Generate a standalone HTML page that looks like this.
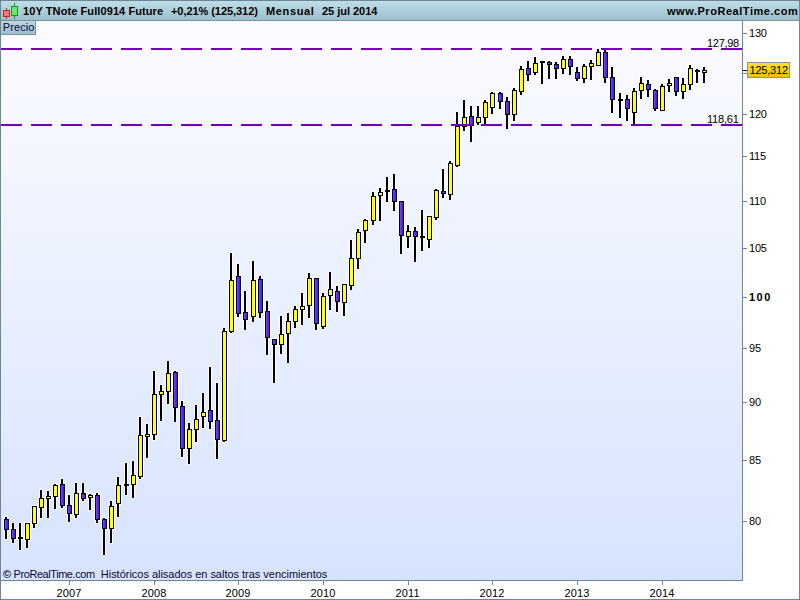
<!DOCTYPE html>
<html><head><meta charset="utf-8"><style>
html,body{margin:0;padding:0;background:#fff;}
#root{position:relative;width:800px;height:600px;overflow:hidden;font-family:"Liberation Sans",sans-serif;}
.t{position:absolute;white-space:nowrap;line-height:13px;}
</style></head><body><div id="root">
<svg width="800" height="600" viewBox="0 0 800 600" shape-rendering="crispEdges" style="position:absolute;left:0;top:0">
<defs>
<linearGradient id="hg" x1="0" y1="0" x2="0" y2="1"><stop offset="0" stop-color="#bfdde9"/><stop offset="1" stop-color="#9dbecb"/></linearGradient>
<linearGradient id="bg" x1="0" y1="0" x2="0" y2="1"><stop offset="0" stop-color="#fbfcff"/><stop offset="1" stop-color="#d7e3fe"/></linearGradient>
<linearGradient id="pg" x1="0" y1="0" x2="0" y2="1"><stop offset="0" stop-color="#bcd5e1"/><stop offset="1" stop-color="#9fbbc9"/></linearGradient>
<linearGradient id="yg" x1="0" y1="0" x2="0" y2="1"><stop offset="0" stop-color="#ffe21a"/><stop offset="1" stop-color="#f4bf00"/></linearGradient>
</defs>
<rect x="0" y="0" width="800" height="600" fill="#ffffff"/>
<rect x="1" y="1" width="798" height="19" fill="url(#hg)"/>
<rect x="1" y="20" width="798" height="1" fill="#7b929e"/>
<rect x="1" y="21" width="741" height="559" fill="url(#bg)"/>
<g fill="#ffffff" fill-opacity="0.8"><rect x="4" y="516" width="4" height="24"/>
<rect x="3" y="518" width="7" height="13"/>
<rect x="11" y="522" width="4" height="22"/>
<rect x="10" y="528" width="7" height="12"/>
<rect x="18" y="522" width="4" height="29"/>
<rect x="17" y="536" width="7" height="4"/>
<rect x="25" y="522" width="4" height="27"/>
<rect x="24" y="522" width="7" height="19"/>
<rect x="32" y="505" width="4" height="24"/>
<rect x="31" y="505" width="7" height="20"/>
<rect x="39" y="489" width="4" height="30"/>
<rect x="38" y="497" width="7" height="12"/>
<rect x="46" y="490" width="4" height="29"/>
<rect x="45" y="495" width="7" height="5"/>
<rect x="53" y="483" width="4" height="27"/>
<rect x="52" y="484" width="7" height="14"/>
<rect x="60" y="478" width="4" height="31"/>
<rect x="59" y="483" width="7" height="24"/>
<rect x="67" y="494" width="4" height="29"/>
<rect x="66" y="504" width="7" height="11"/>
<rect x="74" y="482" width="4" height="37"/>
<rect x="73" y="492" width="7" height="24"/>
<rect x="81" y="482" width="4" height="20"/>
<rect x="80" y="492" width="7" height="8"/>
<rect x="88" y="493" width="4" height="18"/>
<rect x="87" y="494" width="7" height="5"/>
<rect x="95" y="492" width="4" height="32"/>
<rect x="94" y="494" width="7" height="27"/>
<rect x="102" y="517" width="4" height="39"/>
<rect x="101" y="518" width="7" height="12"/>
<rect x="109" y="500" width="4" height="44"/>
<rect x="108" y="505" width="7" height="25"/>
<rect x="116" y="476" width="4" height="42"/>
<rect x="115" y="484" width="7" height="21"/>
<rect x="124" y="462" width="4" height="34"/>
<rect x="123" y="483" width="7" height="4"/>
<rect x="131" y="460" width="4" height="39"/>
<rect x="130" y="474" width="7" height="12"/>
<rect x="138" y="416" width="4" height="64"/>
<rect x="137" y="434" width="7" height="44"/>
<rect x="145" y="423" width="4" height="36"/>
<rect x="144" y="433" width="7" height="5"/>
<rect x="152" y="370" width="4" height="71"/>
<rect x="151" y="393" width="7" height="43"/>
<rect x="159" y="384" width="4" height="38"/>
<rect x="158" y="390" width="7" height="6"/>
<rect x="166" y="360" width="4" height="45"/>
<rect x="165" y="372" width="7" height="21"/>
<rect x="173" y="370" width="4" height="53"/>
<rect x="172" y="371" width="7" height="38"/>
<rect x="180" y="400" width="4" height="58"/>
<rect x="179" y="405" width="7" height="45"/>
<rect x="187" y="422" width="4" height="43"/>
<rect x="186" y="428" width="7" height="22"/>
<rect x="194" y="404" width="4" height="39"/>
<rect x="193" y="418" width="7" height="13"/>
<rect x="201" y="392" width="4" height="37"/>
<rect x="200" y="411" width="7" height="7"/>
<rect x="208" y="366" width="4" height="64"/>
<rect x="207" y="409" width="7" height="14"/>
<rect x="215" y="382" width="4" height="78"/>
<rect x="214" y="419" width="7" height="22"/>
<rect x="222" y="327" width="4" height="116"/>
<rect x="221" y="330" width="7" height="112"/>
<rect x="229" y="252" width="4" height="82"/>
<rect x="228" y="279" width="7" height="54"/>
<rect x="236" y="263" width="4" height="55"/>
<rect x="235" y="275" width="7" height="40"/>
<rect x="243" y="290" width="4" height="41"/>
<rect x="242" y="311" width="7" height="10"/>
<rect x="251" y="260" width="4" height="63"/>
<rect x="250" y="279" width="7" height="39"/>
<rect x="258" y="275" width="4" height="44"/>
<rect x="257" y="278" width="7" height="36"/>
<rect x="265" y="300" width="4" height="56"/>
<rect x="264" y="310" width="7" height="29"/>
<rect x="272" y="338" width="4" height="46"/>
<rect x="271" y="338" width="7" height="8"/>
<rect x="279" y="315" width="4" height="40"/>
<rect x="278" y="333" width="7" height="13"/>
<rect x="286" y="312" width="4" height="52"/>
<rect x="285" y="320" width="7" height="15"/>
<rect x="293" y="305" width="4" height="24"/>
<rect x="292" y="308" width="7" height="15"/>
<rect x="300" y="292" width="4" height="34"/>
<rect x="299" y="305" width="7" height="6"/>
<rect x="307" y="272" width="4" height="47"/>
<rect x="306" y="277" width="7" height="30"/>
<rect x="314" y="277" width="4" height="54"/>
<rect x="313" y="277" width="7" height="48"/>
<rect x="321" y="292" width="4" height="38"/>
<rect x="320" y="295" width="7" height="33"/>
<rect x="328" y="271" width="4" height="40"/>
<rect x="327" y="288" width="7" height="9"/>
<rect x="335" y="285" width="4" height="28"/>
<rect x="334" y="290" width="7" height="13"/>
<rect x="342" y="283" width="4" height="34"/>
<rect x="341" y="283" width="7" height="21"/>
<rect x="349" y="239" width="4" height="52"/>
<rect x="348" y="257" width="7" height="30"/>
<rect x="356" y="228" width="4" height="42"/>
<rect x="355" y="231" width="7" height="29"/>
<rect x="363" y="218" width="4" height="26"/>
<rect x="362" y="219" width="7" height="13"/>
<rect x="371" y="191" width="4" height="35"/>
<rect x="370" y="195" width="7" height="27"/>
<rect x="378" y="187" width="4" height="35"/>
<rect x="377" y="191" width="7" height="6"/>
<rect x="385" y="176" width="4" height="27"/>
<rect x="384" y="189" width="7" height="4"/>
<rect x="392" y="173" width="4" height="39"/>
<rect x="391" y="188" width="7" height="15"/>
<rect x="399" y="200" width="4" height="55"/>
<rect x="398" y="200" width="7" height="37"/>
<rect x="406" y="224" width="4" height="25"/>
<rect x="405" y="230" width="7" height="8"/>
<rect x="413" y="226" width="4" height="37"/>
<rect x="412" y="230" width="7" height="8"/>
<rect x="420" y="209" width="4" height="43"/>
<rect x="419" y="235" width="7" height="4"/>
<rect x="427" y="215" width="4" height="34"/>
<rect x="426" y="215" width="7" height="26"/>
<rect x="434" y="188" width="4" height="33"/>
<rect x="433" y="189" width="7" height="30"/>
<rect x="441" y="168" width="4" height="31"/>
<rect x="440" y="190" width="7" height="5"/>
<rect x="448" y="160" width="4" height="41"/>
<rect x="447" y="162" width="7" height="34"/>
<rect x="455" y="111" width="4" height="57"/>
<rect x="454" y="125" width="7" height="42"/>
<rect x="462" y="99" width="4" height="33"/>
<rect x="461" y="116" width="7" height="12"/>
<rect x="469" y="105" width="4" height="38"/>
<rect x="468" y="115" width="7" height="12"/>
<rect x="476" y="105" width="4" height="21"/>
<rect x="475" y="116" width="7" height="8"/>
<rect x="483" y="99" width="4" height="26"/>
<rect x="482" y="101" width="7" height="18"/>
<rect x="490" y="91" width="4" height="24"/>
<rect x="489" y="92" width="7" height="17"/>
<rect x="498" y="91" width="4" height="19"/>
<rect x="497" y="92" width="7" height="11"/>
<rect x="505" y="96" width="4" height="34"/>
<rect x="504" y="100" width="7" height="16"/>
<rect x="512" y="87" width="4" height="35"/>
<rect x="511" y="89" width="7" height="27"/>
<rect x="519" y="65" width="4" height="31"/>
<rect x="518" y="68" width="7" height="25"/>
<rect x="526" y="60" width="4" height="22"/>
<rect x="525" y="67" width="7" height="9"/>
<rect x="533" y="56" width="4" height="20"/>
<rect x="532" y="62" width="7" height="12"/>
<rect x="540" y="60" width="4" height="25"/>
<rect x="539" y="60" width="7" height="4"/>
<rect x="547" y="60" width="4" height="20"/>
<rect x="546" y="61" width="7" height="5"/>
<rect x="554" y="61" width="4" height="19"/>
<rect x="553" y="63" width="7" height="7"/>
<rect x="561" y="55" width="4" height="20"/>
<rect x="560" y="58" width="7" height="12"/>
<rect x="568" y="55" width="4" height="21"/>
<rect x="567" y="58" width="7" height="10"/>
<rect x="575" y="66" width="4" height="16"/>
<rect x="574" y="71" width="7" height="9"/>
<rect x="582" y="63" width="4" height="21"/>
<rect x="581" y="65" width="7" height="15"/>
<rect x="589" y="59" width="4" height="22"/>
<rect x="588" y="62" width="7" height="6"/>
<rect x="596" y="48" width="4" height="19"/>
<rect x="595" y="51" width="7" height="16"/>
<rect x="603" y="49" width="4" height="35"/>
<rect x="602" y="51" width="7" height="28"/>
<rect x="610" y="66" width="4" height="48"/>
<rect x="609" y="76" width="7" height="25"/>
<rect x="618" y="92" width="4" height="27"/>
<rect x="617" y="98" width="7" height="4"/>
<rect x="625" y="94" width="4" height="28"/>
<rect x="624" y="98" width="7" height="12"/>
<rect x="632" y="87" width="4" height="38"/>
<rect x="631" y="90" width="7" height="24"/>
<rect x="639" y="76" width="4" height="24"/>
<rect x="638" y="82" width="7" height="10"/>
<rect x="646" y="79" width="4" height="19"/>
<rect x="645" y="83" width="7" height="8"/>
<rect x="653" y="88" width="4" height="24"/>
<rect x="652" y="89" width="7" height="21"/>
<rect x="660" y="83" width="4" height="29"/>
<rect x="659" y="85" width="7" height="27"/>
<rect x="667" y="78" width="4" height="15"/>
<rect x="666" y="82" width="7" height="5"/>
<rect x="674" y="76" width="4" height="21"/>
<rect x="673" y="76" width="7" height="17"/>
<rect x="681" y="77" width="4" height="23"/>
<rect x="680" y="83" width="7" height="10"/>
<rect x="688" y="64" width="4" height="27"/>
<rect x="687" y="67" width="7" height="19"/>
<rect x="695" y="68" width="4" height="16"/>
<rect x="694" y="69" width="7" height="4"/>
<rect x="702" y="66" width="4" height="18"/>
<rect x="701" y="69" width="7" height="5"/></g><rect x="5" y="517" width="2" height="22" fill="#000"/>
<rect x="4" y="519" width="5" height="11" fill="#000"/>
<rect x="5" y="520" width="1" height="9" fill="#6c3cff"/>
<rect x="6" y="520" width="1" height="9" fill="#5a2af6"/>
<rect x="7" y="520" width="1" height="9" fill="#4a1ae8"/>
<rect x="12" y="523" width="2" height="20" fill="#000"/>
<rect x="11" y="529" width="5" height="10" fill="#000"/>
<rect x="12" y="530" width="1" height="8" fill="#6c3cff"/>
<rect x="13" y="530" width="1" height="8" fill="#5a2af6"/>
<rect x="14" y="530" width="1" height="8" fill="#4a1ae8"/>
<rect x="19" y="523" width="2" height="27" fill="#000"/>
<rect x="18" y="537" width="5" height="2" fill="#000"/>
<rect x="26" y="523" width="2" height="25" fill="#000"/>
<rect x="25" y="523" width="5" height="17" fill="#000"/>
<rect x="26" y="524" width="1" height="15" fill="#ffff00"/>
<rect x="27" y="524" width="1" height="15" fill="#ffff30"/>
<rect x="28" y="524" width="1" height="15" fill="#ffff00"/>
<rect x="33" y="506" width="2" height="22" fill="#000"/>
<rect x="32" y="506" width="5" height="18" fill="#000"/>
<rect x="33" y="507" width="1" height="16" fill="#ffff00"/>
<rect x="34" y="507" width="1" height="16" fill="#ffff30"/>
<rect x="35" y="507" width="1" height="16" fill="#ffff00"/>
<rect x="40" y="490" width="2" height="28" fill="#000"/>
<rect x="39" y="498" width="5" height="10" fill="#000"/>
<rect x="40" y="499" width="1" height="8" fill="#ffff00"/>
<rect x="41" y="499" width="1" height="8" fill="#ffff30"/>
<rect x="42" y="499" width="1" height="8" fill="#ffff00"/>
<rect x="47" y="491" width="2" height="27" fill="#000"/>
<rect x="46" y="496" width="5" height="3" fill="#000"/>
<rect x="47" y="497" width="1" height="1" fill="#ffff00"/>
<rect x="48" y="497" width="1" height="1" fill="#ffff30"/>
<rect x="49" y="497" width="1" height="1" fill="#ffff00"/>
<rect x="54" y="484" width="2" height="25" fill="#000"/>
<rect x="53" y="485" width="5" height="12" fill="#000"/>
<rect x="54" y="486" width="1" height="10" fill="#ffff00"/>
<rect x="55" y="486" width="1" height="10" fill="#ffff30"/>
<rect x="56" y="486" width="1" height="10" fill="#ffff00"/>
<rect x="61" y="479" width="2" height="29" fill="#000"/>
<rect x="60" y="484" width="5" height="22" fill="#000"/>
<rect x="61" y="485" width="1" height="20" fill="#6c3cff"/>
<rect x="62" y="485" width="1" height="20" fill="#5a2af6"/>
<rect x="63" y="485" width="1" height="20" fill="#4a1ae8"/>
<rect x="68" y="495" width="2" height="27" fill="#000"/>
<rect x="67" y="505" width="5" height="9" fill="#000"/>
<rect x="68" y="506" width="1" height="7" fill="#6c3cff"/>
<rect x="69" y="506" width="1" height="7" fill="#5a2af6"/>
<rect x="70" y="506" width="1" height="7" fill="#4a1ae8"/>
<rect x="75" y="483" width="2" height="35" fill="#000"/>
<rect x="74" y="493" width="5" height="22" fill="#000"/>
<rect x="75" y="494" width="1" height="20" fill="#ffff00"/>
<rect x="76" y="494" width="1" height="20" fill="#ffff30"/>
<rect x="77" y="494" width="1" height="20" fill="#ffff00"/>
<rect x="82" y="483" width="2" height="18" fill="#000"/>
<rect x="81" y="493" width="5" height="6" fill="#000"/>
<rect x="82" y="494" width="1" height="4" fill="#6c3cff"/>
<rect x="83" y="494" width="1" height="4" fill="#5a2af6"/>
<rect x="84" y="494" width="1" height="4" fill="#4a1ae8"/>
<rect x="89" y="494" width="2" height="16" fill="#000"/>
<rect x="88" y="495" width="5" height="3" fill="#000"/>
<rect x="89" y="496" width="1" height="1" fill="#ffff00"/>
<rect x="90" y="496" width="1" height="1" fill="#ffff30"/>
<rect x="91" y="496" width="1" height="1" fill="#ffff00"/>
<rect x="96" y="493" width="2" height="30" fill="#000"/>
<rect x="95" y="495" width="5" height="25" fill="#000"/>
<rect x="96" y="496" width="1" height="23" fill="#6c3cff"/>
<rect x="97" y="496" width="1" height="23" fill="#5a2af6"/>
<rect x="98" y="496" width="1" height="23" fill="#4a1ae8"/>
<rect x="103" y="518" width="2" height="37" fill="#000"/>
<rect x="102" y="519" width="5" height="10" fill="#000"/>
<rect x="103" y="520" width="1" height="8" fill="#6c3cff"/>
<rect x="104" y="520" width="1" height="8" fill="#5a2af6"/>
<rect x="105" y="520" width="1" height="8" fill="#4a1ae8"/>
<rect x="110" y="501" width="2" height="42" fill="#000"/>
<rect x="109" y="506" width="5" height="23" fill="#000"/>
<rect x="110" y="507" width="1" height="21" fill="#ffff00"/>
<rect x="111" y="507" width="1" height="21" fill="#ffff30"/>
<rect x="112" y="507" width="1" height="21" fill="#ffff00"/>
<rect x="117" y="477" width="2" height="40" fill="#000"/>
<rect x="116" y="485" width="5" height="19" fill="#000"/>
<rect x="117" y="486" width="1" height="17" fill="#ffff00"/>
<rect x="118" y="486" width="1" height="17" fill="#ffff30"/>
<rect x="119" y="486" width="1" height="17" fill="#ffff00"/>
<rect x="125" y="463" width="2" height="32" fill="#000"/>
<rect x="124" y="484" width="5" height="2" fill="#000"/>
<rect x="132" y="461" width="2" height="37" fill="#000"/>
<rect x="131" y="475" width="5" height="10" fill="#000"/>
<rect x="132" y="476" width="1" height="8" fill="#ffff00"/>
<rect x="133" y="476" width="1" height="8" fill="#ffff30"/>
<rect x="134" y="476" width="1" height="8" fill="#ffff00"/>
<rect x="139" y="417" width="2" height="62" fill="#000"/>
<rect x="138" y="435" width="5" height="42" fill="#000"/>
<rect x="139" y="436" width="1" height="40" fill="#ffff00"/>
<rect x="140" y="436" width="1" height="40" fill="#ffff30"/>
<rect x="141" y="436" width="1" height="40" fill="#ffff00"/>
<rect x="146" y="424" width="2" height="34" fill="#000"/>
<rect x="145" y="434" width="5" height="3" fill="#000"/>
<rect x="146" y="435" width="1" height="1" fill="#ffff00"/>
<rect x="147" y="435" width="1" height="1" fill="#ffff30"/>
<rect x="148" y="435" width="1" height="1" fill="#ffff00"/>
<rect x="153" y="371" width="2" height="69" fill="#000"/>
<rect x="152" y="394" width="5" height="41" fill="#000"/>
<rect x="153" y="395" width="1" height="39" fill="#ffff00"/>
<rect x="154" y="395" width="1" height="39" fill="#ffff30"/>
<rect x="155" y="395" width="1" height="39" fill="#ffff00"/>
<rect x="160" y="385" width="2" height="36" fill="#000"/>
<rect x="159" y="391" width="5" height="4" fill="#000"/>
<rect x="160" y="392" width="1" height="2" fill="#ffff00"/>
<rect x="161" y="392" width="1" height="2" fill="#ffff30"/>
<rect x="162" y="392" width="1" height="2" fill="#ffff00"/>
<rect x="167" y="361" width="2" height="43" fill="#000"/>
<rect x="166" y="373" width="5" height="19" fill="#000"/>
<rect x="167" y="374" width="1" height="17" fill="#ffff00"/>
<rect x="168" y="374" width="1" height="17" fill="#ffff30"/>
<rect x="169" y="374" width="1" height="17" fill="#ffff00"/>
<rect x="174" y="371" width="2" height="51" fill="#000"/>
<rect x="173" y="372" width="5" height="36" fill="#000"/>
<rect x="174" y="373" width="1" height="34" fill="#6c3cff"/>
<rect x="175" y="373" width="1" height="34" fill="#5a2af6"/>
<rect x="176" y="373" width="1" height="34" fill="#4a1ae8"/>
<rect x="181" y="401" width="2" height="56" fill="#000"/>
<rect x="180" y="406" width="5" height="43" fill="#000"/>
<rect x="181" y="407" width="1" height="41" fill="#6c3cff"/>
<rect x="182" y="407" width="1" height="41" fill="#5a2af6"/>
<rect x="183" y="407" width="1" height="41" fill="#4a1ae8"/>
<rect x="188" y="423" width="2" height="41" fill="#000"/>
<rect x="187" y="429" width="5" height="20" fill="#000"/>
<rect x="188" y="430" width="1" height="18" fill="#ffff00"/>
<rect x="189" y="430" width="1" height="18" fill="#ffff30"/>
<rect x="190" y="430" width="1" height="18" fill="#ffff00"/>
<rect x="195" y="405" width="2" height="37" fill="#000"/>
<rect x="194" y="419" width="5" height="11" fill="#000"/>
<rect x="195" y="420" width="1" height="9" fill="#ffff00"/>
<rect x="196" y="420" width="1" height="9" fill="#ffff30"/>
<rect x="197" y="420" width="1" height="9" fill="#ffff00"/>
<rect x="202" y="393" width="2" height="35" fill="#000"/>
<rect x="201" y="412" width="5" height="5" fill="#000"/>
<rect x="202" y="413" width="1" height="3" fill="#ffff00"/>
<rect x="203" y="413" width="1" height="3" fill="#ffff30"/>
<rect x="204" y="413" width="1" height="3" fill="#ffff00"/>
<rect x="209" y="367" width="2" height="62" fill="#000"/>
<rect x="208" y="410" width="5" height="12" fill="#000"/>
<rect x="209" y="411" width="1" height="10" fill="#6c3cff"/>
<rect x="210" y="411" width="1" height="10" fill="#5a2af6"/>
<rect x="211" y="411" width="1" height="10" fill="#4a1ae8"/>
<rect x="216" y="383" width="2" height="76" fill="#000"/>
<rect x="215" y="420" width="5" height="20" fill="#000"/>
<rect x="216" y="421" width="1" height="18" fill="#6c3cff"/>
<rect x="217" y="421" width="1" height="18" fill="#5a2af6"/>
<rect x="218" y="421" width="1" height="18" fill="#4a1ae8"/>
<rect x="223" y="328" width="2" height="114" fill="#000"/>
<rect x="222" y="331" width="5" height="110" fill="#000"/>
<rect x="223" y="332" width="1" height="108" fill="#ffff00"/>
<rect x="224" y="332" width="1" height="108" fill="#ffff30"/>
<rect x="225" y="332" width="1" height="108" fill="#ffff00"/>
<rect x="230" y="253" width="2" height="80" fill="#000"/>
<rect x="229" y="280" width="5" height="52" fill="#000"/>
<rect x="230" y="281" width="1" height="50" fill="#ffff00"/>
<rect x="231" y="281" width="1" height="50" fill="#ffff30"/>
<rect x="232" y="281" width="1" height="50" fill="#ffff00"/>
<rect x="237" y="264" width="2" height="53" fill="#000"/>
<rect x="236" y="276" width="5" height="38" fill="#000"/>
<rect x="237" y="277" width="1" height="36" fill="#6c3cff"/>
<rect x="238" y="277" width="1" height="36" fill="#5a2af6"/>
<rect x="239" y="277" width="1" height="36" fill="#4a1ae8"/>
<rect x="244" y="291" width="2" height="39" fill="#000"/>
<rect x="243" y="312" width="5" height="8" fill="#000"/>
<rect x="244" y="313" width="1" height="6" fill="#6c3cff"/>
<rect x="245" y="313" width="1" height="6" fill="#5a2af6"/>
<rect x="246" y="313" width="1" height="6" fill="#4a1ae8"/>
<rect x="252" y="261" width="2" height="61" fill="#000"/>
<rect x="251" y="280" width="5" height="37" fill="#000"/>
<rect x="252" y="281" width="1" height="35" fill="#ffff00"/>
<rect x="253" y="281" width="1" height="35" fill="#ffff30"/>
<rect x="254" y="281" width="1" height="35" fill="#ffff00"/>
<rect x="259" y="276" width="2" height="42" fill="#000"/>
<rect x="258" y="279" width="5" height="34" fill="#000"/>
<rect x="259" y="280" width="1" height="32" fill="#6c3cff"/>
<rect x="260" y="280" width="1" height="32" fill="#5a2af6"/>
<rect x="261" y="280" width="1" height="32" fill="#4a1ae8"/>
<rect x="266" y="301" width="2" height="54" fill="#000"/>
<rect x="265" y="311" width="5" height="27" fill="#000"/>
<rect x="266" y="312" width="1" height="25" fill="#6c3cff"/>
<rect x="267" y="312" width="1" height="25" fill="#5a2af6"/>
<rect x="268" y="312" width="1" height="25" fill="#4a1ae8"/>
<rect x="273" y="339" width="2" height="44" fill="#000"/>
<rect x="272" y="339" width="5" height="6" fill="#000"/>
<rect x="273" y="340" width="1" height="4" fill="#6c3cff"/>
<rect x="274" y="340" width="1" height="4" fill="#5a2af6"/>
<rect x="275" y="340" width="1" height="4" fill="#4a1ae8"/>
<rect x="280" y="316" width="2" height="38" fill="#000"/>
<rect x="279" y="334" width="5" height="11" fill="#000"/>
<rect x="280" y="335" width="1" height="9" fill="#ffff00"/>
<rect x="281" y="335" width="1" height="9" fill="#ffff30"/>
<rect x="282" y="335" width="1" height="9" fill="#ffff00"/>
<rect x="287" y="313" width="2" height="50" fill="#000"/>
<rect x="286" y="321" width="5" height="13" fill="#000"/>
<rect x="287" y="322" width="1" height="11" fill="#ffff00"/>
<rect x="288" y="322" width="1" height="11" fill="#ffff30"/>
<rect x="289" y="322" width="1" height="11" fill="#ffff00"/>
<rect x="294" y="306" width="2" height="22" fill="#000"/>
<rect x="293" y="309" width="5" height="13" fill="#000"/>
<rect x="294" y="310" width="1" height="11" fill="#ffff00"/>
<rect x="295" y="310" width="1" height="11" fill="#ffff30"/>
<rect x="296" y="310" width="1" height="11" fill="#ffff00"/>
<rect x="301" y="293" width="2" height="32" fill="#000"/>
<rect x="300" y="306" width="5" height="4" fill="#000"/>
<rect x="301" y="307" width="1" height="2" fill="#ffff00"/>
<rect x="302" y="307" width="1" height="2" fill="#ffff30"/>
<rect x="303" y="307" width="1" height="2" fill="#ffff00"/>
<rect x="308" y="273" width="2" height="45" fill="#000"/>
<rect x="307" y="278" width="5" height="28" fill="#000"/>
<rect x="308" y="279" width="1" height="26" fill="#ffff00"/>
<rect x="309" y="279" width="1" height="26" fill="#ffff30"/>
<rect x="310" y="279" width="1" height="26" fill="#ffff00"/>
<rect x="315" y="278" width="2" height="52" fill="#000"/>
<rect x="314" y="278" width="5" height="46" fill="#000"/>
<rect x="315" y="279" width="1" height="44" fill="#6c3cff"/>
<rect x="316" y="279" width="1" height="44" fill="#5a2af6"/>
<rect x="317" y="279" width="1" height="44" fill="#4a1ae8"/>
<rect x="322" y="293" width="2" height="36" fill="#000"/>
<rect x="321" y="296" width="5" height="31" fill="#000"/>
<rect x="322" y="297" width="1" height="29" fill="#ffff00"/>
<rect x="323" y="297" width="1" height="29" fill="#ffff30"/>
<rect x="324" y="297" width="1" height="29" fill="#ffff00"/>
<rect x="329" y="272" width="2" height="38" fill="#000"/>
<rect x="328" y="289" width="5" height="7" fill="#000"/>
<rect x="329" y="290" width="1" height="5" fill="#ffff00"/>
<rect x="330" y="290" width="1" height="5" fill="#ffff30"/>
<rect x="331" y="290" width="1" height="5" fill="#ffff00"/>
<rect x="336" y="286" width="2" height="26" fill="#000"/>
<rect x="335" y="291" width="5" height="11" fill="#000"/>
<rect x="336" y="292" width="1" height="9" fill="#6c3cff"/>
<rect x="337" y="292" width="1" height="9" fill="#5a2af6"/>
<rect x="338" y="292" width="1" height="9" fill="#4a1ae8"/>
<rect x="343" y="284" width="2" height="32" fill="#000"/>
<rect x="342" y="284" width="5" height="19" fill="#000"/>
<rect x="343" y="285" width="1" height="17" fill="#ffff00"/>
<rect x="344" y="285" width="1" height="17" fill="#ffff30"/>
<rect x="345" y="285" width="1" height="17" fill="#ffff00"/>
<rect x="350" y="240" width="2" height="50" fill="#000"/>
<rect x="349" y="258" width="5" height="28" fill="#000"/>
<rect x="350" y="259" width="1" height="26" fill="#ffff00"/>
<rect x="351" y="259" width="1" height="26" fill="#ffff30"/>
<rect x="352" y="259" width="1" height="26" fill="#ffff00"/>
<rect x="357" y="229" width="2" height="40" fill="#000"/>
<rect x="356" y="232" width="5" height="27" fill="#000"/>
<rect x="357" y="233" width="1" height="25" fill="#ffff00"/>
<rect x="358" y="233" width="1" height="25" fill="#ffff30"/>
<rect x="359" y="233" width="1" height="25" fill="#ffff00"/>
<rect x="364" y="219" width="2" height="24" fill="#000"/>
<rect x="363" y="220" width="5" height="11" fill="#000"/>
<rect x="364" y="221" width="1" height="9" fill="#ffff00"/>
<rect x="365" y="221" width="1" height="9" fill="#ffff30"/>
<rect x="366" y="221" width="1" height="9" fill="#ffff00"/>
<rect x="372" y="192" width="2" height="33" fill="#000"/>
<rect x="371" y="196" width="5" height="25" fill="#000"/>
<rect x="372" y="197" width="1" height="23" fill="#ffff00"/>
<rect x="373" y="197" width="1" height="23" fill="#ffff30"/>
<rect x="374" y="197" width="1" height="23" fill="#ffff00"/>
<rect x="379" y="188" width="2" height="33" fill="#000"/>
<rect x="378" y="192" width="5" height="4" fill="#000"/>
<rect x="379" y="193" width="1" height="2" fill="#ffff00"/>
<rect x="380" y="193" width="1" height="2" fill="#ffff30"/>
<rect x="381" y="193" width="1" height="2" fill="#ffff00"/>
<rect x="386" y="177" width="2" height="25" fill="#000"/>
<rect x="385" y="190" width="5" height="2" fill="#000"/>
<rect x="393" y="174" width="2" height="37" fill="#000"/>
<rect x="392" y="189" width="5" height="13" fill="#000"/>
<rect x="393" y="190" width="1" height="11" fill="#6c3cff"/>
<rect x="394" y="190" width="1" height="11" fill="#5a2af6"/>
<rect x="395" y="190" width="1" height="11" fill="#4a1ae8"/>
<rect x="400" y="201" width="2" height="53" fill="#000"/>
<rect x="399" y="201" width="5" height="35" fill="#000"/>
<rect x="400" y="202" width="1" height="33" fill="#6c3cff"/>
<rect x="401" y="202" width="1" height="33" fill="#5a2af6"/>
<rect x="402" y="202" width="1" height="33" fill="#4a1ae8"/>
<rect x="407" y="225" width="2" height="23" fill="#000"/>
<rect x="406" y="231" width="5" height="6" fill="#000"/>
<rect x="407" y="232" width="1" height="4" fill="#ffff00"/>
<rect x="408" y="232" width="1" height="4" fill="#ffff30"/>
<rect x="409" y="232" width="1" height="4" fill="#ffff00"/>
<rect x="414" y="227" width="2" height="35" fill="#000"/>
<rect x="413" y="231" width="5" height="6" fill="#000"/>
<rect x="414" y="232" width="1" height="4" fill="#6c3cff"/>
<rect x="415" y="232" width="1" height="4" fill="#5a2af6"/>
<rect x="416" y="232" width="1" height="4" fill="#4a1ae8"/>
<rect x="421" y="210" width="2" height="41" fill="#000"/>
<rect x="420" y="236" width="5" height="2" fill="#000"/>
<rect x="428" y="216" width="2" height="32" fill="#000"/>
<rect x="427" y="216" width="5" height="24" fill="#000"/>
<rect x="428" y="217" width="1" height="22" fill="#ffff00"/>
<rect x="429" y="217" width="1" height="22" fill="#ffff30"/>
<rect x="430" y="217" width="1" height="22" fill="#ffff00"/>
<rect x="435" y="189" width="2" height="31" fill="#000"/>
<rect x="434" y="190" width="5" height="28" fill="#000"/>
<rect x="435" y="191" width="1" height="26" fill="#ffff00"/>
<rect x="436" y="191" width="1" height="26" fill="#ffff30"/>
<rect x="437" y="191" width="1" height="26" fill="#ffff00"/>
<rect x="442" y="169" width="2" height="29" fill="#000"/>
<rect x="441" y="191" width="5" height="3" fill="#000"/>
<rect x="442" y="192" width="1" height="1" fill="#6c3cff"/>
<rect x="443" y="192" width="1" height="1" fill="#5a2af6"/>
<rect x="444" y="192" width="1" height="1" fill="#4a1ae8"/>
<rect x="449" y="161" width="2" height="39" fill="#000"/>
<rect x="448" y="163" width="5" height="32" fill="#000"/>
<rect x="449" y="164" width="1" height="30" fill="#ffff00"/>
<rect x="450" y="164" width="1" height="30" fill="#ffff30"/>
<rect x="451" y="164" width="1" height="30" fill="#ffff00"/>
<rect x="456" y="112" width="2" height="55" fill="#000"/>
<rect x="455" y="126" width="5" height="40" fill="#000"/>
<rect x="456" y="127" width="1" height="38" fill="#ffff00"/>
<rect x="457" y="127" width="1" height="38" fill="#ffff30"/>
<rect x="458" y="127" width="1" height="38" fill="#ffff00"/>
<rect x="463" y="100" width="2" height="31" fill="#000"/>
<rect x="462" y="117" width="5" height="10" fill="#000"/>
<rect x="463" y="118" width="1" height="8" fill="#ffff00"/>
<rect x="464" y="118" width="1" height="8" fill="#ffff30"/>
<rect x="465" y="118" width="1" height="8" fill="#ffff00"/>
<rect x="470" y="106" width="2" height="36" fill="#000"/>
<rect x="469" y="116" width="5" height="10" fill="#000"/>
<rect x="470" y="117" width="1" height="8" fill="#6c3cff"/>
<rect x="471" y="117" width="1" height="8" fill="#5a2af6"/>
<rect x="472" y="117" width="1" height="8" fill="#4a1ae8"/>
<rect x="477" y="106" width="2" height="19" fill="#000"/>
<rect x="476" y="117" width="5" height="6" fill="#000"/>
<rect x="477" y="118" width="1" height="4" fill="#ffff00"/>
<rect x="478" y="118" width="1" height="4" fill="#ffff30"/>
<rect x="479" y="118" width="1" height="4" fill="#ffff00"/>
<rect x="484" y="100" width="2" height="24" fill="#000"/>
<rect x="483" y="102" width="5" height="16" fill="#000"/>
<rect x="484" y="103" width="1" height="14" fill="#ffff00"/>
<rect x="485" y="103" width="1" height="14" fill="#ffff30"/>
<rect x="486" y="103" width="1" height="14" fill="#ffff00"/>
<rect x="491" y="92" width="2" height="22" fill="#000"/>
<rect x="490" y="93" width="5" height="15" fill="#000"/>
<rect x="491" y="94" width="1" height="13" fill="#ffff00"/>
<rect x="492" y="94" width="1" height="13" fill="#ffff30"/>
<rect x="493" y="94" width="1" height="13" fill="#ffff00"/>
<rect x="499" y="92" width="2" height="17" fill="#000"/>
<rect x="498" y="93" width="5" height="9" fill="#000"/>
<rect x="499" y="94" width="1" height="7" fill="#6c3cff"/>
<rect x="500" y="94" width="1" height="7" fill="#5a2af6"/>
<rect x="501" y="94" width="1" height="7" fill="#4a1ae8"/>
<rect x="506" y="97" width="2" height="32" fill="#000"/>
<rect x="505" y="101" width="5" height="14" fill="#000"/>
<rect x="506" y="102" width="1" height="12" fill="#6c3cff"/>
<rect x="507" y="102" width="1" height="12" fill="#5a2af6"/>
<rect x="508" y="102" width="1" height="12" fill="#4a1ae8"/>
<rect x="513" y="88" width="2" height="33" fill="#000"/>
<rect x="512" y="90" width="5" height="25" fill="#000"/>
<rect x="513" y="91" width="1" height="23" fill="#ffff00"/>
<rect x="514" y="91" width="1" height="23" fill="#ffff30"/>
<rect x="515" y="91" width="1" height="23" fill="#ffff00"/>
<rect x="520" y="66" width="2" height="29" fill="#000"/>
<rect x="519" y="69" width="5" height="23" fill="#000"/>
<rect x="520" y="70" width="1" height="21" fill="#ffff00"/>
<rect x="521" y="70" width="1" height="21" fill="#ffff30"/>
<rect x="522" y="70" width="1" height="21" fill="#ffff00"/>
<rect x="527" y="61" width="2" height="20" fill="#000"/>
<rect x="526" y="68" width="5" height="7" fill="#000"/>
<rect x="527" y="69" width="1" height="5" fill="#6c3cff"/>
<rect x="528" y="69" width="1" height="5" fill="#5a2af6"/>
<rect x="529" y="69" width="1" height="5" fill="#4a1ae8"/>
<rect x="534" y="57" width="2" height="18" fill="#000"/>
<rect x="533" y="63" width="5" height="10" fill="#000"/>
<rect x="534" y="64" width="1" height="8" fill="#ffff00"/>
<rect x="535" y="64" width="1" height="8" fill="#ffff30"/>
<rect x="536" y="64" width="1" height="8" fill="#ffff00"/>
<rect x="541" y="61" width="2" height="23" fill="#000"/>
<rect x="540" y="61" width="5" height="2" fill="#000"/>
<rect x="548" y="61" width="2" height="18" fill="#000"/>
<rect x="547" y="62" width="5" height="3" fill="#000"/>
<rect x="548" y="63" width="1" height="1" fill="#6c3cff"/>
<rect x="549" y="63" width="1" height="1" fill="#5a2af6"/>
<rect x="550" y="63" width="1" height="1" fill="#4a1ae8"/>
<rect x="555" y="62" width="2" height="17" fill="#000"/>
<rect x="554" y="64" width="5" height="5" fill="#000"/>
<rect x="555" y="65" width="1" height="3" fill="#6c3cff"/>
<rect x="556" y="65" width="1" height="3" fill="#5a2af6"/>
<rect x="557" y="65" width="1" height="3" fill="#4a1ae8"/>
<rect x="562" y="56" width="2" height="18" fill="#000"/>
<rect x="561" y="59" width="5" height="10" fill="#000"/>
<rect x="562" y="60" width="1" height="8" fill="#ffff00"/>
<rect x="563" y="60" width="1" height="8" fill="#ffff30"/>
<rect x="564" y="60" width="1" height="8" fill="#ffff00"/>
<rect x="569" y="56" width="2" height="19" fill="#000"/>
<rect x="568" y="59" width="5" height="8" fill="#000"/>
<rect x="569" y="60" width="1" height="6" fill="#6c3cff"/>
<rect x="570" y="60" width="1" height="6" fill="#5a2af6"/>
<rect x="571" y="60" width="1" height="6" fill="#4a1ae8"/>
<rect x="576" y="67" width="2" height="14" fill="#000"/>
<rect x="575" y="72" width="5" height="7" fill="#000"/>
<rect x="576" y="73" width="1" height="5" fill="#6c3cff"/>
<rect x="577" y="73" width="1" height="5" fill="#5a2af6"/>
<rect x="578" y="73" width="1" height="5" fill="#4a1ae8"/>
<rect x="583" y="64" width="2" height="19" fill="#000"/>
<rect x="582" y="66" width="5" height="13" fill="#000"/>
<rect x="583" y="67" width="1" height="11" fill="#ffff00"/>
<rect x="584" y="67" width="1" height="11" fill="#ffff30"/>
<rect x="585" y="67" width="1" height="11" fill="#ffff00"/>
<rect x="590" y="60" width="2" height="20" fill="#000"/>
<rect x="589" y="63" width="5" height="4" fill="#000"/>
<rect x="590" y="64" width="1" height="2" fill="#ffff00"/>
<rect x="591" y="64" width="1" height="2" fill="#ffff30"/>
<rect x="592" y="64" width="1" height="2" fill="#ffff00"/>
<rect x="597" y="49" width="2" height="17" fill="#000"/>
<rect x="596" y="52" width="5" height="14" fill="#000"/>
<rect x="597" y="53" width="1" height="12" fill="#ffff00"/>
<rect x="598" y="53" width="1" height="12" fill="#ffff30"/>
<rect x="599" y="53" width="1" height="12" fill="#ffff00"/>
<rect x="604" y="50" width="2" height="33" fill="#000"/>
<rect x="603" y="52" width="5" height="26" fill="#000"/>
<rect x="604" y="53" width="1" height="24" fill="#6c3cff"/>
<rect x="605" y="53" width="1" height="24" fill="#5a2af6"/>
<rect x="606" y="53" width="1" height="24" fill="#4a1ae8"/>
<rect x="611" y="67" width="2" height="46" fill="#000"/>
<rect x="610" y="77" width="5" height="23" fill="#000"/>
<rect x="611" y="78" width="1" height="21" fill="#6c3cff"/>
<rect x="612" y="78" width="1" height="21" fill="#5a2af6"/>
<rect x="613" y="78" width="1" height="21" fill="#4a1ae8"/>
<rect x="619" y="93" width="2" height="25" fill="#000"/>
<rect x="618" y="99" width="5" height="2" fill="#000"/>
<rect x="626" y="95" width="2" height="26" fill="#000"/>
<rect x="625" y="99" width="5" height="10" fill="#000"/>
<rect x="626" y="100" width="1" height="8" fill="#6c3cff"/>
<rect x="627" y="100" width="1" height="8" fill="#5a2af6"/>
<rect x="628" y="100" width="1" height="8" fill="#4a1ae8"/>
<rect x="633" y="88" width="2" height="36" fill="#000"/>
<rect x="632" y="91" width="5" height="22" fill="#000"/>
<rect x="633" y="92" width="1" height="20" fill="#ffff00"/>
<rect x="634" y="92" width="1" height="20" fill="#ffff30"/>
<rect x="635" y="92" width="1" height="20" fill="#ffff00"/>
<rect x="640" y="77" width="2" height="22" fill="#000"/>
<rect x="639" y="83" width="5" height="8" fill="#000"/>
<rect x="640" y="84" width="1" height="6" fill="#ffff00"/>
<rect x="641" y="84" width="1" height="6" fill="#ffff30"/>
<rect x="642" y="84" width="1" height="6" fill="#ffff00"/>
<rect x="647" y="80" width="2" height="17" fill="#000"/>
<rect x="646" y="84" width="5" height="6" fill="#000"/>
<rect x="647" y="85" width="1" height="4" fill="#6c3cff"/>
<rect x="648" y="85" width="1" height="4" fill="#5a2af6"/>
<rect x="649" y="85" width="1" height="4" fill="#4a1ae8"/>
<rect x="654" y="89" width="2" height="22" fill="#000"/>
<rect x="653" y="90" width="5" height="19" fill="#000"/>
<rect x="654" y="91" width="1" height="17" fill="#6c3cff"/>
<rect x="655" y="91" width="1" height="17" fill="#5a2af6"/>
<rect x="656" y="91" width="1" height="17" fill="#4a1ae8"/>
<rect x="661" y="84" width="2" height="27" fill="#000"/>
<rect x="660" y="86" width="5" height="25" fill="#000"/>
<rect x="661" y="87" width="1" height="23" fill="#ffff00"/>
<rect x="662" y="87" width="1" height="23" fill="#ffff30"/>
<rect x="663" y="87" width="1" height="23" fill="#ffff00"/>
<rect x="668" y="79" width="2" height="13" fill="#000"/>
<rect x="667" y="83" width="5" height="3" fill="#000"/>
<rect x="668" y="84" width="1" height="1" fill="#ffff00"/>
<rect x="669" y="84" width="1" height="1" fill="#ffff30"/>
<rect x="670" y="84" width="1" height="1" fill="#ffff00"/>
<rect x="675" y="77" width="2" height="19" fill="#000"/>
<rect x="674" y="77" width="5" height="15" fill="#000"/>
<rect x="675" y="78" width="1" height="13" fill="#6c3cff"/>
<rect x="676" y="78" width="1" height="13" fill="#5a2af6"/>
<rect x="677" y="78" width="1" height="13" fill="#4a1ae8"/>
<rect x="682" y="78" width="2" height="21" fill="#000"/>
<rect x="681" y="84" width="5" height="8" fill="#000"/>
<rect x="682" y="85" width="1" height="6" fill="#ffff00"/>
<rect x="683" y="85" width="1" height="6" fill="#ffff30"/>
<rect x="684" y="85" width="1" height="6" fill="#ffff00"/>
<rect x="689" y="65" width="2" height="25" fill="#000"/>
<rect x="688" y="68" width="5" height="17" fill="#000"/>
<rect x="689" y="69" width="1" height="15" fill="#ffff00"/>
<rect x="690" y="69" width="1" height="15" fill="#ffff30"/>
<rect x="691" y="69" width="1" height="15" fill="#ffff00"/>
<rect x="696" y="69" width="2" height="14" fill="#000"/>
<rect x="695" y="70" width="5" height="2" fill="#000"/>
<rect x="703" y="67" width="2" height="16" fill="#000"/>
<rect x="702" y="70" width="5" height="3" fill="#000"/>
<rect x="703" y="71" width="1" height="1" fill="#ffff00"/>
<rect x="704" y="71" width="1" height="1" fill="#ffff30"/>
<rect x="705" y="71" width="1" height="1" fill="#ffff00"/><g fill="#7200b8"><rect x="1" y="48" width="21" height="2"/><rect x="31" y="48" width="21" height="2"/><rect x="61" y="48" width="21" height="2"/><rect x="91" y="48" width="21" height="2"/><rect x="121" y="48" width="21" height="2"/><rect x="151" y="48" width="21" height="2"/><rect x="181" y="48" width="21" height="2"/><rect x="211" y="48" width="21" height="2"/><rect x="241" y="48" width="21" height="2"/><rect x="271" y="48" width="21" height="2"/><rect x="301" y="48" width="21" height="2"/><rect x="331" y="48" width="21" height="2"/><rect x="361" y="48" width="21" height="2"/><rect x="391" y="48" width="21" height="2"/><rect x="421" y="48" width="21" height="2"/><rect x="451" y="48" width="21" height="2"/><rect x="481" y="48" width="21" height="2"/><rect x="511" y="48" width="21" height="2"/><rect x="541" y="48" width="21" height="2"/><rect x="571" y="48" width="21" height="2"/><rect x="601" y="48" width="21" height="2"/><rect x="631" y="48" width="21" height="2"/><rect x="661" y="48" width="21" height="2"/><rect x="691" y="48" width="21" height="2"/><rect x="721" y="48" width="21" height="2"/></g><g fill="#7200b8"><rect x="1" y="124" width="21" height="2"/><rect x="31" y="124" width="21" height="2"/><rect x="61" y="124" width="21" height="2"/><rect x="91" y="124" width="21" height="2"/><rect x="121" y="124" width="21" height="2"/><rect x="151" y="124" width="21" height="2"/><rect x="181" y="124" width="21" height="2"/><rect x="211" y="124" width="21" height="2"/><rect x="241" y="124" width="21" height="2"/><rect x="271" y="124" width="21" height="2"/><rect x="301" y="124" width="21" height="2"/><rect x="331" y="124" width="21" height="2"/><rect x="361" y="124" width="21" height="2"/><rect x="391" y="124" width="21" height="2"/><rect x="421" y="124" width="21" height="2"/><rect x="451" y="124" width="21" height="2"/><rect x="481" y="124" width="21" height="2"/><rect x="511" y="124" width="21" height="2"/><rect x="541" y="124" width="21" height="2"/><rect x="571" y="124" width="21" height="2"/><rect x="601" y="124" width="21" height="2"/><rect x="631" y="124" width="21" height="2"/><rect x="661" y="124" width="21" height="2"/><rect x="691" y="124" width="21" height="2"/><rect x="721" y="124" width="21" height="2"/></g><rect x="1" y="21" width="35" height="14" fill="url(#pg)"/><rect x="35" y="21" width="1" height="14" fill="#7d949f"/><rect x="1" y="34" width="35" height="1" fill="#7d949f"/><rect x="742" y="21" width="1" height="560" fill="#6e8593"/><rect x="1" y="580" width="742" height="1" fill="#6e8593"/><rect x="743" y="33" width="4" height="1" fill="#6e8593"/><rect x="743" y="114" width="4" height="1" fill="#6e8593"/><rect x="743" y="156" width="4" height="1" fill="#6e8593"/><rect x="743" y="201" width="4" height="1" fill="#6e8593"/><rect x="743" y="248" width="4" height="1" fill="#6e8593"/><rect x="743" y="297" width="4" height="1" fill="#6e8593"/><rect x="743" y="348" width="4" height="1" fill="#6e8593"/><rect x="743" y="402" width="4" height="1" fill="#6e8593"/><rect x="743" y="460" width="4" height="1" fill="#6e8593"/><rect x="743" y="521" width="4" height="1" fill="#6e8593"/><rect x="69" y="581" width="1" height="4" fill="#6e8593"/><rect x="154" y="581" width="1" height="4" fill="#6e8593"/><rect x="238" y="581" width="1" height="4" fill="#6e8593"/><rect x="323" y="581" width="1" height="4" fill="#6e8593"/><rect x="408" y="581" width="1" height="4" fill="#6e8593"/><rect x="492" y="581" width="1" height="4" fill="#6e8593"/><rect x="577" y="581" width="1" height="4" fill="#6e8593"/><rect x="662" y="581" width="1" height="4" fill="#6e8593"/><rect x="743" y="70" width="4" height="1" fill="#000"/><rect x="743" y="73" width="4" height="1" fill="#7890a0"/><rect x="747" y="62" width="43" height="16" fill="#7d95a8"/><rect x="748" y="63" width="41" height="14" fill="url(#yg)"/><rect x="6" y="8" width="1" height="11" fill="#c42626"/><rect x="3" y="10" width="7" height="7" fill="#c42626"/><rect x="4" y="11" width="5" height="5" fill="#f27c7c"/><rect x="14" y="3" width="1" height="16" fill="#109c10"/><rect x="11" y="6" width="7" height="10" fill="#109c10"/><rect x="12" y="7" width="5" height="8" fill="#70e470"/><rect x="0" y="0" width="800" height="1" fill="#6e8593"/><rect x="0" y="599" width="800" height="1" fill="#6e8593"/><rect x="0" y="0" width="1" height="600" fill="#6e8593"/><rect x="799" y="0" width="1" height="600" fill="#6e8593"/></svg>
<div class="t" style="left:23px;top:5px;font-size:11px;font-weight:bold;color:#000;letter-spacing:0.09px;">10Y TNote Full0914 Future</div><div class="t" style="left:171px;top:5px;font-size:11px;font-weight:bold;color:#000;letter-spacing:-0.06px;">+0,21% (125,312)</div><div class="t" style="left:266px;top:5px;font-size:11px;font-weight:bold;color:#000;letter-spacing:0.65px;">Mensual</div><div class="t" style="left:322px;top:5px;font-size:11px;font-weight:bold;color:#000;letter-spacing:-0.03px;">25 jul 2014</div><div class="t" style="left:667px;top:5px;font-size:11px;font-weight:bold;color:#000;letter-spacing:0.54px;">www.ProRealTime.com</div><div class="t" style="left:2.8px;top:21px;font-size:11px;font-weight:normal;color:#0a0a40;letter-spacing:0.1px;">Precio</div><div class="t" style="left:749px;top:27px;font-size:11px;font-weight:normal;color:#000;letter-spacing:-0.2px;">130</div><div class="t" style="left:749px;top:108px;font-size:11px;font-weight:normal;color:#000;letter-spacing:-0.2px;">120</div><div class="t" style="left:749px;top:150px;font-size:11px;font-weight:normal;color:#000;letter-spacing:-0.2px;">115</div><div class="t" style="left:749px;top:195px;font-size:11px;font-weight:normal;color:#000;letter-spacing:-0.2px;">110</div><div class="t" style="left:749px;top:242px;font-size:11px;font-weight:normal;color:#000;letter-spacing:-0.2px;">105</div><div class="t" style="left:749px;top:291px;font-size:11px;font-weight:bold;color:#000;letter-spacing:1.5px;">100</div><div class="t" style="left:749px;top:342px;font-size:11px;font-weight:normal;color:#000;letter-spacing:-0.2px;">95</div><div class="t" style="left:749px;top:396px;font-size:11px;font-weight:normal;color:#000;letter-spacing:-0.2px;">90</div><div class="t" style="left:749px;top:454px;font-size:11px;font-weight:normal;color:#000;letter-spacing:-0.2px;">85</div><div class="t" style="left:749px;top:515px;font-size:11px;font-weight:normal;color:#000;letter-spacing:-0.2px;">80</div><div class="t" style="left:749.5px;top:64px;font-size:11px;font-weight:normal;color:#000;letter-spacing:-0.2px;">125,312</div><div class="t" style="left:707px;top:37px;font-size:11px;font-weight:normal;color:#000;letter-spacing:-0.3px;">127,98</div><div class="t" style="left:707px;top:113px;font-size:11px;font-weight:normal;color:#000;letter-spacing:-0.2px;">118,61</div><div class="t" style="left:56.5px;top:587px;font-size:11px;font-weight:normal;color:#000;letter-spacing:0.15px;">2007</div><div class="t" style="left:141.5px;top:587px;font-size:11px;font-weight:normal;color:#000;letter-spacing:0.15px;">2008</div><div class="t" style="left:225.5px;top:587px;font-size:11px;font-weight:normal;color:#000;letter-spacing:0.15px;">2009</div><div class="t" style="left:310.5px;top:587px;font-size:11px;font-weight:normal;color:#000;letter-spacing:0.15px;">2010</div><div class="t" style="left:395.5px;top:587px;font-size:11px;font-weight:normal;color:#000;letter-spacing:0.15px;">2011</div><div class="t" style="left:479.5px;top:587px;font-size:11px;font-weight:normal;color:#000;letter-spacing:0.15px;">2012</div><div class="t" style="left:564.5px;top:587px;font-size:11px;font-weight:normal;color:#000;letter-spacing:0.15px;">2013</div><div class="t" style="left:649.5px;top:587px;font-size:11px;font-weight:normal;color:#000;letter-spacing:0.15px;">2014</div><div class="t" style="left:2.9px;top:568px;font-size:11px;font-weight:bold;color:#0a0a30;">&copy;</div><div class="t" style="left:13.6px;top:568px;font-size:11px;font-weight:normal;color:#0a0a30;letter-spacing:-0.44px;">ProRealTime.com</div><div class="t" style="left:100.8px;top:568px;font-size:11px;font-weight:normal;color:#0a0a30;letter-spacing:-0.02px;">Hist&oacute;ricos alisados en saltos tras vencimientos</div>
</div></body></html>
